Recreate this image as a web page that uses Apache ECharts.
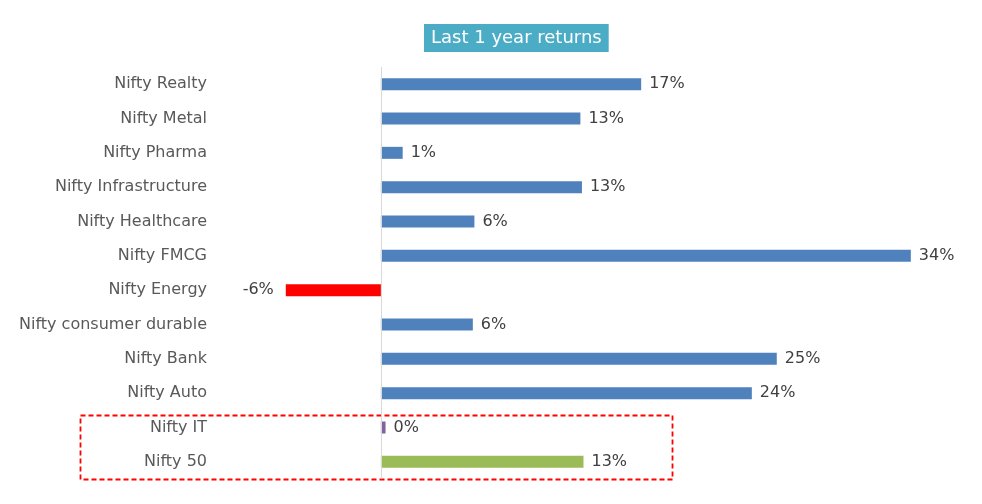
<!DOCTYPE html>
<html>
<head>
<meta charset="utf-8">
<script src="https://cdn.jsdelivr.net/npm/echarts@6/dist/echarts.min.js"></script>
<style>
  html, body { margin: 0; padding: 0; background: #fff; }
  #chart { width: 982px; height: 504px; }
</style>
</head>
<body>
<div id="chart"></div>
<script>
// top to bottom, as shown
const categories = [
  'Nifty Realty', 'Nifty Metal', 'Nifty Pharma', 'Nifty Infrastructure',
  'Nifty Healthcare', 'Nifty FMCG', 'Nifty Energy', 'Nifty consumer durable',
  'Nifty Bank', 'Nifty Auto', 'Nifty IT', 'Nifty 50'
]
const returns = [16.7, 12.8, 1.4, 12.9, 6.0, 34.0, -6.1, 5.9, 25.4, 23.8, 0.3, 13.0]
const barColors = [
  '#4f81bd', '#4f81bd', '#4f81bd', '#4f81bd', '#4f81bd', '#4f81bd',
  '#ff0000', '#4f81bd', '#4f81bd', '#4f81bd', '#8064a2', '#9bbb59'
]

const chart = echarts.init(document.getElementById('chart'))

chart.setOption({
  animation: false,
  textStyle: { fontFamily: 'DejaVu Sans, Liberation Sans, sans-serif' },
  title: {
    text: 'Last 1 year returns',
    left: 424,
    top: 24,
    backgroundColor: '#4bacc6',
    padding: [4, 7, 4, 7],
    textStyle: {
      color: '#fff',
      fontFamily: 'DejaVu Sans, sans-serif',
      fontSize: 18,
      fontWeight: 'normal',
      lineHeight: 20
    }
  },
  grid: {
    left: 225,
    right: 40,
    top: 67,
    bottom: 25
  },
  xAxis: {
    type: 'value',
    min: -10,
    max: 36,
    show: false
  },
  yAxis: {
    type: 'category',
    inverse: true,
    data: categories,
    axisLine: { show: false, onZero: false },
    axisTick: { show: false },
    axisLabel: {
      margin: 18,
      color: '#595959',
      fontSize: 16
    }
  },
  series: [
    {
      type: 'bar',
      barWidth: 12,
      data: returns.map((v, i) => ({
        value: v,
        itemStyle: { color: barColors[i] },
        label: v < 0 ? { position: 'left', distance: 12 } : undefined
      })),
      label: {
        show: true,
        position: 'right',
        distance: 8,
        color: '#404040',
        fontSize: 16,
        formatter: p => Math.round(p.value) + '%'
      },
      markLine: {
        silent: true,
        symbol: 'none',
        label: { show: false },
        lineStyle: { color: '#d9d9d9', width: 1, type: 'solid' },
        data: [{ xAxis: 0 }]
      }
    }
  ],
  graphic: [
    {
      type: 'rect',
      shape: { x: 80.5, y: 415.5, width: 592, height: 64 },
      style: {
        fill: 'none',
        stroke: '#ff0000',
        lineWidth: 1.8,
        lineDash: [5, 3]
      }
    }
  ]
})
</script>
</body>
</html>
